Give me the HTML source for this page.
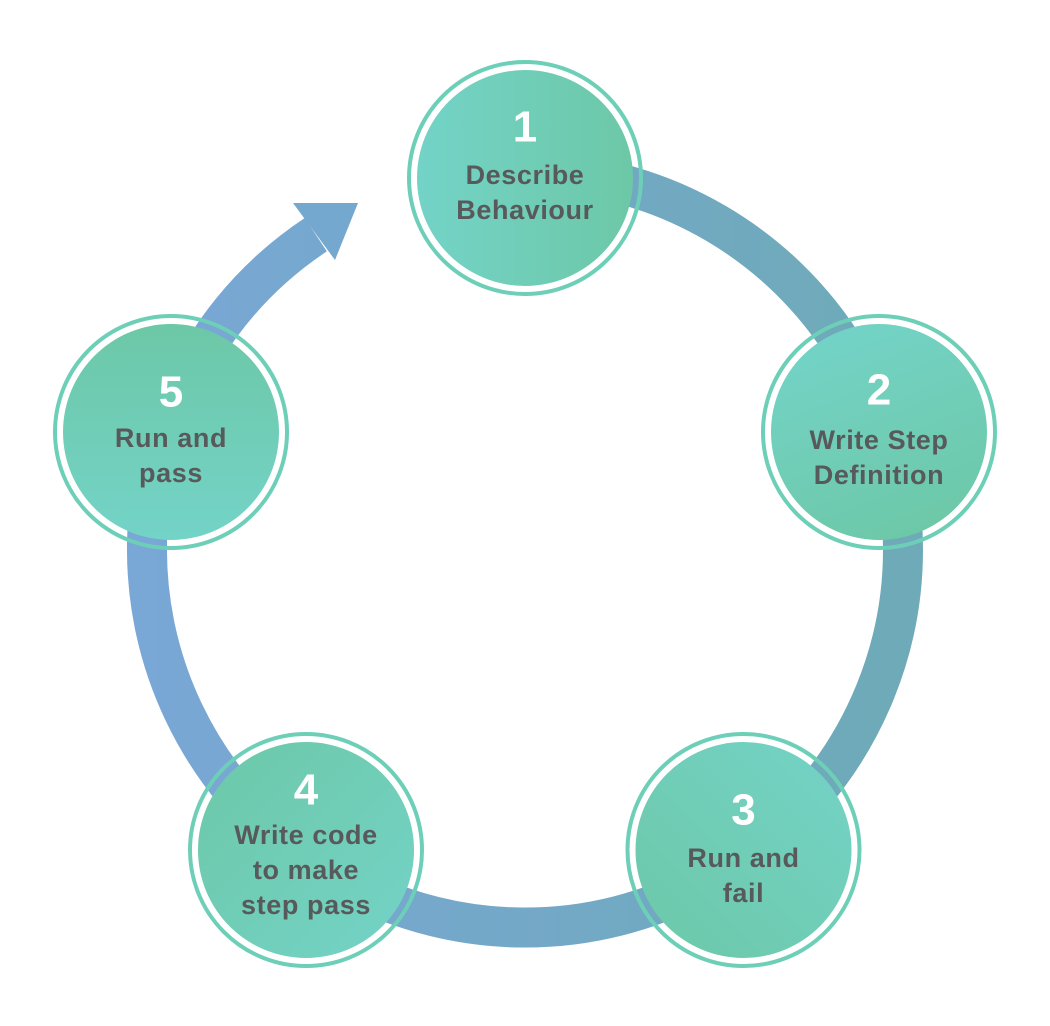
<!DOCTYPE html>
<html><head><style>html,body{margin:0;padding:0;background:#fff}svg{display:block}</style></head>
<body>
<svg width="1050" height="1026" viewBox="0 0 1050 1026" xmlns="http://www.w3.org/2000/svg">
<defs>
<linearGradient id="arc" x1="140" y1="0" x2="920" y2="0" gradientUnits="userSpaceOnUse">
<stop offset="0" stop-color="#79a7d6"/><stop offset="1" stop-color="#6eaab7"/></linearGradient>
<linearGradient id="g1" x1="0" y1="0" x2="1" y2="0"><stop offset="0" stop-color="#73d3c7"/><stop offset="1" stop-color="#6dc8a7"/></linearGradient>
<linearGradient id="g2" x1="0.3" y1="0" x2="0.7" y2="1"><stop offset="0" stop-color="#73d3c7"/><stop offset="1" stop-color="#6dc8a7"/></linearGradient>
<linearGradient id="g3" x1="1" y1="0" x2="0" y2="1"><stop offset="0" stop-color="#73d3c7"/><stop offset="1" stop-color="#6dc8a7"/></linearGradient>
<linearGradient id="g4" x1="1" y1="1" x2="0" y2="0"><stop offset="0" stop-color="#73d3c7"/><stop offset="1" stop-color="#6dc8a7"/></linearGradient>
<linearGradient id="g5" x1="0" y1="1" x2="0" y2="0"><stop offset="0" stop-color="#73d3c7"/><stop offset="1" stop-color="#6dc8a7"/></linearGradient>
</defs>
<path d="M558 173 A378 378 0 1 1 315.8 234.7" fill="none" stroke="url(#arc)" stroke-width="40"/>
<polygon points="293,203 358,203 335,260" fill="#74a8cf"/>
<g stroke="#6dcfb8" stroke-width="4" fill="none">
<circle cx="525" cy="178" r="116"/>
<circle cx="879" cy="432" r="116"/>
<circle cx="743.5" cy="850" r="116"/>
<circle cx="306" cy="850" r="116"/>
<circle cx="171" cy="432" r="116"/>
</g>
<circle cx="525" cy="178" r="108" fill="url(#g1)"/>
<circle cx="879" cy="432" r="108" fill="url(#g2)"/>
<circle cx="743.5" cy="850" r="108" fill="url(#g3)"/>
<circle cx="306" cy="850" r="108" fill="url(#g4)"/>
<circle cx="171" cy="432" r="108" fill="url(#g5)"/>
<g font-family="Liberation Sans, sans-serif" font-weight="bold" text-anchor="middle" dominant-baseline="central">
<g fill="#fff" font-size="44">
<text x="525" y="127">1</text>
<text x="879" y="390">2</text>
<text x="743.5" y="810">3</text>
<text x="306" y="790">4</text>
<text x="171" y="392">5</text>
</g>
<g fill="#58595b" font-size="27" letter-spacing="0.6">
<text x="525" y="175">Describe</text>
<text x="525" y="210">Behaviour</text>
<text x="879" y="440">Write Step</text>
<text x="879" y="475">Definition</text>
<text x="743.5" y="858">Run and</text>
<text x="743.5" y="893">fail</text>
<text x="306" y="835">Write code</text>
<text x="306" y="870">to make</text>
<text x="306" y="905">step pass</text>
<text x="171" y="438">Run and</text>
<text x="171" y="473">pass</text>
</g>
</g>
</svg>
</body></html>
